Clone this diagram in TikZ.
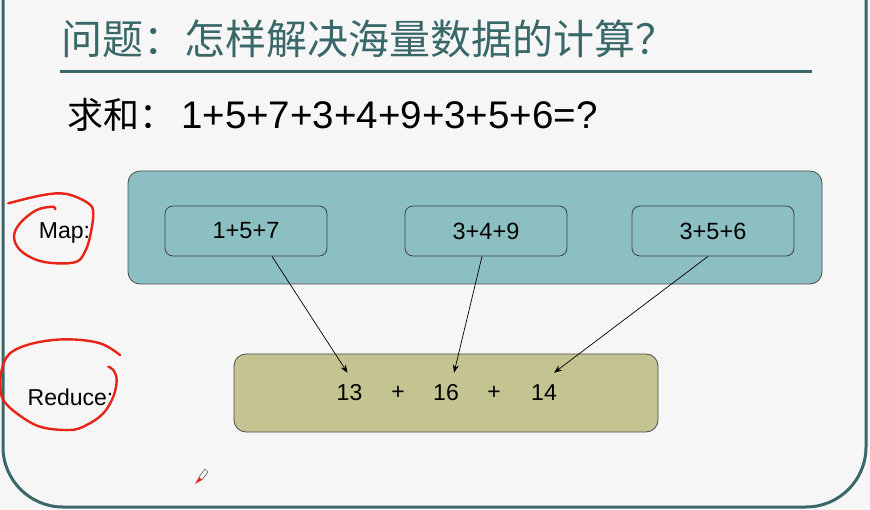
\documentclass[tikz,border=0pt]{standalone}
\usepackage{fontspec}
\setmainfont{Liberation Sans}
\newfontfamily\cjk{Noto Sans CJK SC}
\usetikzlibrary{arrows.meta}
\definecolor{slideteal}{RGB}{58,104,105}
\definecolor{mapfill}{RGB}{139,191,194}
\definecolor{reducefill}{RGB}{196,196,147}
\definecolor{inkred}{RGB}{232,36,22}
\definecolor{slidebg}{RGB}{246,246,246}

\begin{document}
\begin{tikzpicture}[x=1pt, y=-1pt,
    outerbox/.style={draw=black!70, line width=0.8pt, rounded corners=12pt},
    mapbox/.style={draw=black!75, line width=0.8pt, rounded corners=8pt, fill=mapfill,
        minimum width=162pt, minimum height=50pt, font=\fontsize{23.5}{27}\selectfont},
    num/.style={inner sep=0pt, minimum height=40pt, font=\fontsize{23}{27}\selectfont},
    sidelabel/.style={font=\fontsize{23}{27}\selectfont},
    ink/.style={inkred, line width=2.4pt, line cap=round, line join=round},
    conn/.style={-{Stealth[length=8pt, width=6pt]}, line width=0.7pt}]
        \useasboundingbox (0,0) rectangle (870,510);
        \clip (0,0) rectangle (870,510);
        \fill[slidebg] (0,0) rectangle (870,510);
        % Slide frame
        \draw[slideteal, line width=3pt, rounded corners=60pt] (3,-30) -- (3,507) -- (866,507) -- (866,-30);
        % Title and rule
        \node[anchor=west, inner sep=0pt, text=slideteal, font=\cjk\fontsize{41}{45}\selectfont] (title) at (61,39)
            {问题：怎样解决海量数据的计算？};
        \draw[slideteal, line width=3pt] (60,72) -- (812,72);
        \node[anchor=west, inner sep=0pt] (sum) at (67,115)
            {{\cjk\fontsize{36}{40}\selectfont 求和：}\kern6pt{\fontsize{38.5}{42}\selectfont 1+5+7+3+4+9+3+5+6=?}};
        % Map stage
        \node[outerbox, fill=mapfill, minimum width=694pt, minimum height=113pt] (maprow) at (475,227.5) {};
        \foreach \x/\t [count=\i] in {246/1+5+7, 486/3+4+9, 713/3+5+6} {
            \node[mapbox] (m\i) at (\x,231) {\t};
        }
        % Reduce stage
        \node[outerbox, fill=reducefill, minimum width=424pt, minimum height=78pt] (reducerow) at (446,393) {};
        \node[num] (r1) at (349.5,393) {13};
        \node[num] (p1) at (398,393) {+};
        \node[num] (r2) at (446,393) {16};
        \node[num] (p2) at (494,393) {+};
        \node[num] (r3) at (544,393) {14};
        % Arrows from map boxes to partial sums
        \foreach \i/\dx/\ex in {1/26/-2, 2/-4/8, 3/-5/10} {
            \draw[conn] ([xshift=\dx pt]m\i.south) -- ([xshift=\ex pt]r\i.north);
        }
        % Side labels with hand-drawn circles
        \node[sidelabel] (maplabel) at (64.5,233) {Map:};
        \node[sidelabel] (reducelabel) at (70.5,397) {Reduce:};
        \draw[ink] plot[smooth, tension=0.6] coordinates {(8.3,203.3) (43.3,195) (66.7,194) (88.3,203.3)
            (93.3,213.3) (90,236.7) (85,251.7) (76.7,261.7) (56.7,263.3) (36.7,260) (20,250) (14,236.7)
            (20,223.3) (36.7,210) (53.3,206.7) (55,209.3)};
        \draw[ink] plot[smooth, tension=0.6] coordinates {(120,355) (100,343.3) (66.7,339.3) (33.3,343.3)
            (10,353.3) (1.7,370) (0.5,386.7) (3.3,400) (16.7,413.3) (40,426.7) (70,430) (86.7,425)
            (103.3,413.3) (113.3,396.7) (116.7,380) (113.3,370) (108.3,366.7)};
        % Pen cursor
        \fill[inkred] (195,484) -- (199,477) -- (202,480) -- cycle;
        \draw[black!60, line width=0.6pt] (199,477) -- (205,469) (202,480) -- (208,472) (205,469) -- (208,472);
    \end{tikzpicture}
\end{document}
